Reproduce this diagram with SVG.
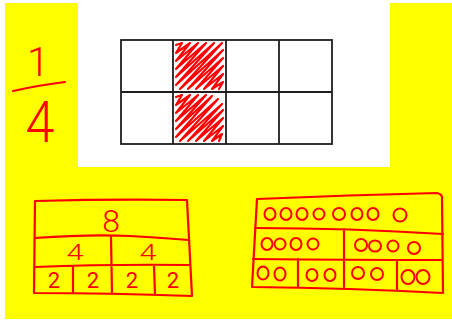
<svg xmlns="http://www.w3.org/2000/svg" width="452" height="320" viewBox="0 0 452 320">
<style>
.ink{fill:none;stroke:#ff0000;stroke-width:2.2;stroke-linecap:round;stroke-linejoin:round}
.dot{fill:none;stroke:#ff0000;stroke-width:2}
.grid{fill:none;stroke:#1e1e1e;stroke-width:1.8}
.hand{fill:#ff0000;font-family:Roboto,"Liberation Sans",sans-serif;text-anchor:middle}
.big{font-weight:300}
</style>
<rect x="0" y="0" width="452" height="320" fill="#ffffff"/>
<rect x="5" y="3" width="447" height="316" fill="#ffff00"/>
<rect x="78" y="3" width="312" height="164" fill="#ffffff"/>

<g id="fraction">
<text class="hand big" x="38" y="76" font-size="40">1</text>
<path class="ink" d="M13,91 Q40,85 65,82"/>
<text class="hand big" transform="translate(40,142) scale(0.9,1)" font-size="58">4</text>
</g>

<g id="grid">
<g id="shading" class="ink" stroke-width="2.2">
<path d="M176,45 L182,43 L176,53 L190,43 L176,61 L198,43 L176,69 L206,43 L176,77 L214,43 L176,85 L222,43 L180,89 L223,50 L188,89 L223,58 L196,89 L223,66 L204,89 L223,74 L212,89 L223,82 L219,89"/>
<path d="M176,97 L182,95 L176,105 L190,95 L176,113 L198,95 L176,121 L206,95 L176,129 L212,96 L176,137 L218,99 L180,141 L222,104 L188,141 L223,110 L196,141 L223,118 L204,141 L223,126 L212,141 L222,134 L219,141"/>
</g>
<rect class="grid" x="121" y="40" width="211" height="104"/>
<path class="grid" d="M173,40 V144 M226,40 V144 M279,40 V144 M121,92 H332"/>
</g>

<g id="bar-model">
<path class="ink" d="M35,201 Q110,199 187,200 L192,296 Q110,293 34,293 Z"/>
<path class="ink" d="M35,238 Q90,234 130,236 Q165,238 188,240 M35,267 Q110,264 190,265 M111,237 L112,294 M73,267 L73,293 M154,266 L155,295"/>
<text class="hand big" x="111" y="232" font-size="32">8</text>
<text class="hand big" transform="translate(75,260) scale(1.4,1)" font-size="22">4</text>
<text class="hand big" transform="translate(148,260) scale(1.4,1)" font-size="22">4</text>
<text class="hand" x="54" y="288" font-size="22">2</text>
<text class="hand" x="93" y="288" font-size="22">2</text>
<text class="hand" x="132" y="288" font-size="22">2</text>
<text class="hand" x="173" y="288" font-size="22">2</text>
</g>

<g id="counters-model">
<path class="ink" d="M257,199 Q350,195 437,193 Q443,194 442,200 L443,293 Q350,288 252,287 Z"/>
<path class="ink" d="M255,228 Q350,228 443,234 M253,259 Q350,260 441,260 M344,229 L344,287 M298,259 L298,287 M397,261 L397,291"/>
<g class="dot">
<ellipse cx="270" cy="214" rx="5.5" ry="6"/>
<ellipse cx="286" cy="214" rx="5.5" ry="6"/>
<ellipse cx="302" cy="214" rx="5.5" ry="6"/>
<ellipse cx="319" cy="214" rx="5.5" ry="5.5"/>
<ellipse cx="339" cy="214" rx="6" ry="6"/>
<ellipse cx="357" cy="214" rx="5.5" ry="6"/>
<ellipse cx="373" cy="214" rx="5.5" ry="6"/>
<ellipse cx="400" cy="215" rx="6.5" ry="6.5"/>
<ellipse cx="267" cy="244" rx="5.5" ry="6"/>
<ellipse cx="280" cy="244" rx="5.5" ry="5.5"/>
<ellipse cx="296" cy="244" rx="5.5" ry="6"/>
<ellipse cx="313" cy="244" rx="5.5" ry="5.5"/>
<ellipse cx="361" cy="245" rx="6" ry="6"/>
<ellipse cx="375" cy="246" rx="6" ry="5.5"/>
<ellipse cx="393" cy="246" rx="5.5" ry="5.5"/>
<ellipse cx="414" cy="248" rx="6" ry="6"/>
<ellipse cx="263" cy="273" rx="5.5" ry="6.5"/>
<ellipse cx="280" cy="274" rx="5.5" ry="6.5"/>
<ellipse cx="312" cy="275" rx="5.5" ry="6"/>
<ellipse cx="330" cy="275" rx="5.5" ry="6"/>
<ellipse cx="358" cy="273" rx="6" ry="6"/>
<ellipse cx="377" cy="274" rx="6" ry="6"/>
<ellipse cx="408" cy="277" rx="6.5" ry="7"/>
<ellipse cx="423" cy="277" rx="6.5" ry="7"/>
</g>
</g>
</svg>
